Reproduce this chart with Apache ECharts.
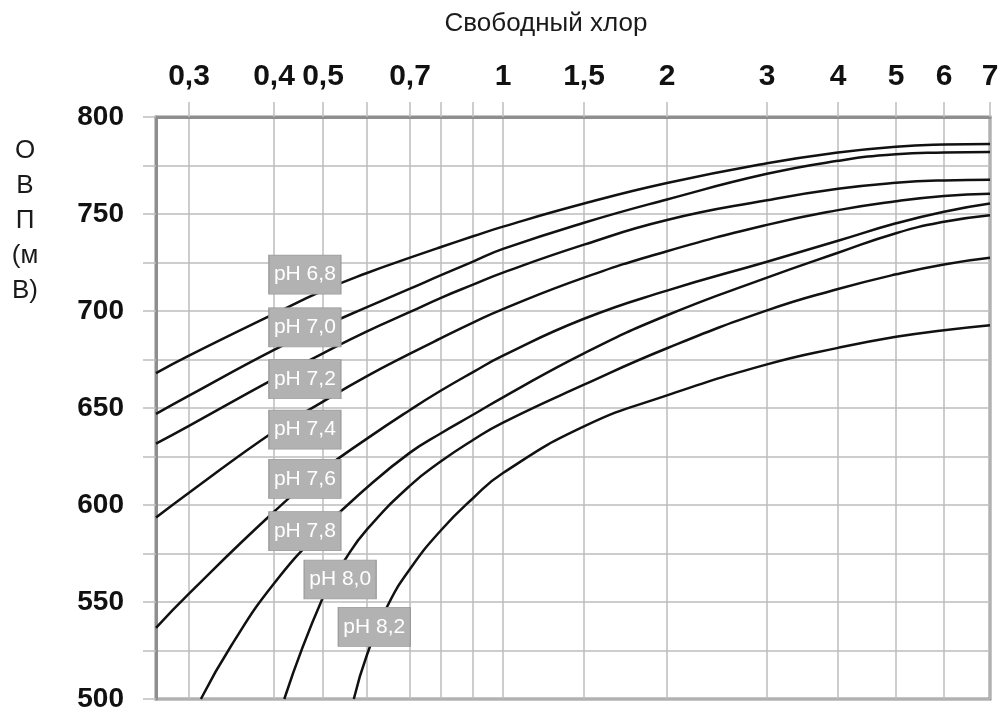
<!DOCTYPE html>
<html>
<head>
<meta charset="utf-8">
<title>ОВП и свободный хлор</title>
<script src="https://cdn.jsdelivr.net/npm/echarts@6/dist/echarts.min.js"></script>
<style>
html, body { margin: 0; padding: 0; background: #fff; }
#main { width: 1005px; height: 713px; }
</style>
</head>
<body>
<div id="main"></div>
<script>
// шкала хлора на исходном графике неравномерная - задаём её таблицей узлов
var clStops   = [0.27, 0.3, 0.4, 0.5, 0.6, 0.7, 0.8, 0.9, 1, 1.5, 2, 3, 4, 5, 6, 7];
var clStopPos = [0, 33, 118, 167, 211, 254, 285, 317, 347, 428, 511, 611, 682, 740, 788, 834];
var clLabels  = ['', '0,3', '0,4', '0,5', '', '0,7', '', '', '1', '1,5', '2', '3', '4', '5', '6', '7'];

// кривые ОВП (мВ) для разных pH: [свободный хлор, мВ]
var ph68 = [[0.27,668],[0.3,677],[0.4,698.5],[0.5,710.5],[0.6,719.6],[0.7,727.5],[0.8,733],[0.9,738.5],[1,743.5],[1.5,755.4],[2,766],[3,776.2],[4,781.7],[5,784.7],[6,785.8],[7,786.1]];
var ph70 = [[0.27,647],[0.3,656.4],[0.4,680],[0.5,692],[0.6,702],[0.7,711.5],[0.8,718.5],[0.9,725.5],[1,732],[1.5,745.5],[2,757.5],[3,770.7],[4,777.4],[5,780.8],[6,781.7],[7,782]];
var ph72 = [[0.27,631.6],[0.3,640.8],[0.4,665],[0.5,678.2],[0.6,689.5],[0.7,699.5],[0.8,706.8],[0.9,713.6],[1,719.8],[1.5,734.2],[2,746.9],[3,757.1],[4,763],[5,766.1],[6,767.3],[7,767.6]];
var ph74 = [[0.27,593.5],[0.3,606.3],[0.4,637.9],[0.5,653.3],[0.6,666.4],[0.7,678],[0.8,686],[0.9,694],[1,701],[1.5,717.2],[2,730.8],[3,744.4],[4,752],[5,756.6],[6,759.3],[7,760.5]];
var ph76 = [[0.27,536.7],[0.3,554.3],[0.4,596.5],[0.5,618],[0.6,634.2],[0.7,649],[0.8,659],[0.9,668.5],[1,677],[1.5,696],[2,710.5],[3,725.4],[4,736.2],[5,745.2],[6,751.2],[7,755.4]];
var ph78 = [[0.314,500],[0.35,527.7],[0.4,559.5],[0.5,587.7],[0.6,609],[0.7,627],[0.8,637],[0.9,646.5],[1,655.5],[1.5,678.2],[2,697.8],[3,717.2],[4,730],[5,740.1],[6,746],[7,749.4]];
var ph80 = [[0.421,500],[0.5,552.4],[0.55,571.8],[0.6,587.4],[0.7,610],[0.8,622.5],[0.9,633.5],[1,642.5],[1.5,662],[2,680.8],[3,700.3],[4,711.3],[5,718.9],[6,724],[7,727.4]];
var ph82 = [[0.57,500],[0.6,522.8],[0.647,547.7],[0.7,567],[0.8,587],[0.9,603.5],[1,616.5],[1.5,640.5],[2,656.5],[3,672.5],[4,681],[5,686.7],[6,690.1],[7,692.7]];

var curveNames = ['pH 6,8', 'pH 7,0', 'pH 7,2', 'pH 7,4', 'pH 7,6', 'pH 7,8', 'pH 8,0', 'pH 8,2'];
var curves = [ph68, ph70, ph72, ph74, ph76, ph78, ph80, ph82];
// где стоят подписи кривых: [хлор, мВ]
var labelAt = [[0.463,718.8],[0.463,691.6],[0.463,664.9],[0.463,638.9],[0.463,613.5],[0.463,586.5],[0.539,561.6],[0.617,537.2]];

// хлор -> позиция на оси (кусочно-линейно между узлами)
function clToAxis(v) {
    for (var i = 1; i < clStops.length; i++) {
        if (v <= clStops[i]) {
            var t = (v - clStops[i - 1]) / (clStops[i] - clStops[i - 1]);
            return clStopPos[i - 1] + t * (clStopPos[i] - clStopPos[i - 1]);
        }
    }
    return clStopPos[clStopPos.length - 1];
}

var tickPos = clStopPos.slice(1);
var labelPos = clStopPos.filter(function (p, i) { return clLabels[i] !== ''; });

var gridColor = '#bdbdbd';
var frameColor = '#8e8e8e';

var series = curves.map(function (c, i) {
    return {
        name: curveNames[i],
        type: 'line',
        data: c.map(function (p) { return [clToAxis(p[0]), p[1]]; }),
        smooth: 0.5,
        showSymbol: false,
        clip: true,
        lineStyle: { color: '#111', width: 2.5 },
        z: 3
    };
});

series.push({
    type: 'scatter',
    data: labelAt.map(function (p, i) { return { value: [clToAxis(p[0]), p[1]], name: curveNames[i] }; }),
    symbol: 'rect',
    symbolSize: [72, 39],
    itemStyle: { color: '#b2b2b2', borderColor: '#9c9c9c', borderWidth: 1, opacity: 1 },
    label: {
        show: true,
        position: 'inside',
        formatter: '{b}',
        color: '#fff',
        fontSize: 21,
        fontFamily: 'Liberation Sans, Arial, sans-serif'
    },
    silent: true,
    z: 5
});

var myChart = echarts.init(document.getElementById('main'));
var option = {
    animation: false,
    backgroundColor: '#fff',
    title: [{
        text: 'Свободный хлор',
        left: 546,
        top: 11,
        padding: 0,
        textAlign: 'center',
        textStyle: { fontFamily: 'Liberation Sans, Arial, sans-serif', fontSize: 26, fontWeight: 'normal', color: '#1a1a1a' }
    }, {
        text: 'О\nВ\nП\n(м\nВ)',
        left: 25,
        top: 133,
        padding: 0,
        textAlign: 'center',
        textStyle: { fontFamily: 'Liberation Sans, Arial, sans-serif', fontSize: 26, fontWeight: 'normal', lineHeight: 35, color: '#1a1a1a' }
    }],
    grid: {
        left: 156, right: 15, top: 117, bottom: 6,
        show: true, borderColor: frameColor, borderWidth: 3
    },
    xAxis: {
        type: 'value',
        position: 'top',
        min: 0,
        max: clStopPos[clStopPos.length - 1],
        axisLine: { show: true, lineStyle: { color: frameColor, width: 3 } },
        axisTick: { show: true, customValues: tickPos, length: 15, inside: false, lineStyle: { color: gridColor, width: 1.5 } },
        axisLabel: {
            customValues: labelPos,
            margin: 25,
            formatter: function (v) {
                var i = clStopPos.indexOf(v);
                return i >= 0 ? clLabels[i] : '';
            },
            color: '#111',
            fontSize: 30,
            fontWeight: 'bold',
            fontFamily: 'Liberation Sans Narrow, Liberation Sans, Arial, sans-serif'
        },
        splitLine: { show: true, lineStyle: { color: gridColor, width: 1.5 } }
    },
    yAxis: {
        type: 'value',
        min: 500,
        max: 800,
        interval: 25,
        axisLine: { show: true, lineStyle: { color: frameColor, width: 3 } },
        axisTick: { show: true, length: 13, lineStyle: { color: gridColor, width: 1.5 } },
        axisLabel: {
            margin: 32,
            formatter: function (v) { return v % 50 === 0 ? String(v) : ''; },
            color: '#111',
            fontSize: 28,
            fontWeight: 'bold',
            fontFamily: 'Liberation Sans, Arial, sans-serif'
        },
        splitLine: { show: true, lineStyle: { color: gridColor, width: 1.5 } }
    },
    series: series
};
myChart.setOption(option);
</script>
</body>
</html>
